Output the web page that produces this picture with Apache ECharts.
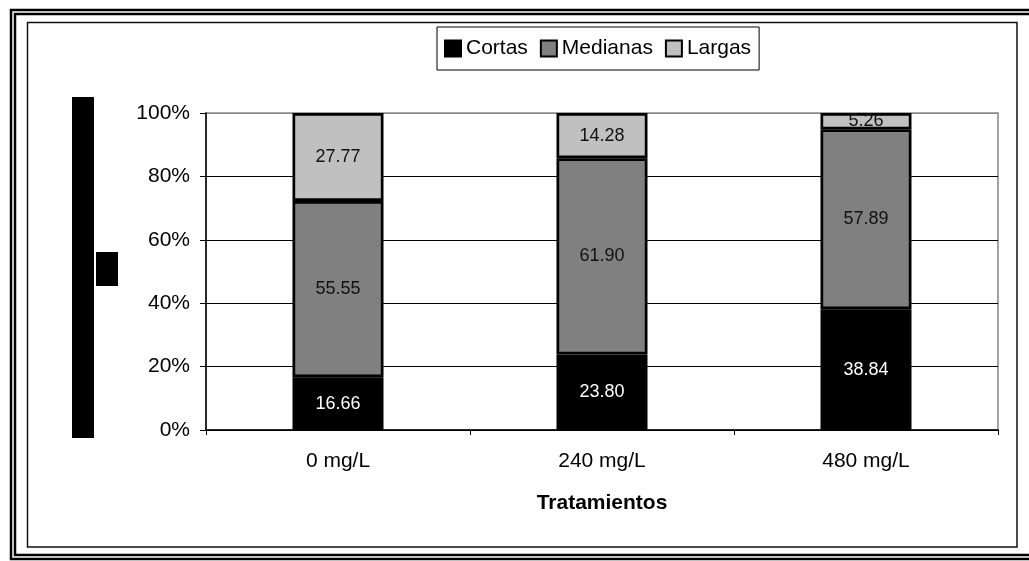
<!DOCTYPE html>
<html>
<head>
<meta charset="utf-8">
<script src="https://cdn.jsdelivr.net/npm/echarts@6/dist/echarts.min.js"></script>
<style>
  html, body { margin: 0; padding: 0; background: #fff; }
  #chart { width: 1029px; height: 561px; }
</style>
</head>
<body>
<div id="chart"></div>
<script>
// Treatments (x categories)
const categories = ['0 mg/L', '240 mg/L', '480 mg/L'];
// Root length classes, values per treatment
const cortas = [16.66, 23.80, 38.84];
const medianas = [55.55, 61.90, 57.89];
const largas = [27.77, 14.28, 5.26];
const seriesNames = ['Cortas', 'Medianas', 'Largas'];
const yTicks = [0, 20, 40, 60, 80, 100];

const FONT = '"Liberation Sans", Arial, sans-serif';

// 100% stacking: each segment is its share of the treatment total
const totals = categories.map((_, i) => cortas[i] + medianas[i] + largas[i]);
const share = arr => arr.map((v, i) => v / totals[i] * 100);

function makeSeries(name, values, color, labelColor) {
  return {
    name: name,
    type: 'bar',
    stack: 'total',
    barWidth: 91,
    data: share(values),
    itemStyle: { color: color, borderColor: '#000', borderWidth: 2.7 },
    label: {
      show: true,
      position: 'inside',
      color: labelColor,
      fontFamily: FONT,
      fontSize: 18,
      formatter: p => values[p.dataIndex].toFixed(2)
    }
  };
}

const chart = echarts.init(document.getElementById('chart'), null, { renderer: 'canvas' });
chart.setOption({
  backgroundColor: '#fff',
  animation: false,
  textStyle: { fontFamily: FONT },
  legend: {
    data: seriesNames,
    left: 437,
    top: 27,
    padding: [11, 8, 11, 7],
    itemGap: 12,
    itemWidth: 16,
    itemHeight: 16,
    borderColor: '#000',
    borderWidth: 1,
    icon: 'rect',
    textStyle: { fontFamily: FONT, fontSize: 21, color: '#000' },
    itemStyle: { borderColor: '#000', borderWidth: 2 }
  },
  grid: {
    left: 206, right: 31, top: 113, bottom: 131,
    show: true, borderColor: '#888', borderWidth: 1.5, backgroundColor: 'transparent'
  },
  xAxis: {
    type: 'category',
    data: categories,
    boundaryGap: true,
    name: 'Tratamientos',
    nameLocation: 'middle',
    nameGap: 63,
    nameTextStyle: { fontFamily: FONT, fontSize: 21, fontWeight: 'bold', color: '#000', letterSpacing: 2 },
    axisLine: { lineStyle: { color: '#000', width: 1.5 } },
    axisTick: { show: true, length: 5, alignWithLabel: false, lineStyle: { color: '#000' } },
    axisLabel: { fontFamily: FONT, fontSize: 21, color: '#000', margin: 21 }
  },
  yAxis: {
    type: 'value',
    min: yTicks[0],
    max: yTicks[yTicks.length - 1],
    interval: 20,
    axisLine: { show: true, lineStyle: { color: '#000', width: 1.5 } },
    axisTick: { show: true, length: 6, lineStyle: { color: '#000' } },
    axisLabel: { fontFamily: FONT, fontSize: 21, color: '#000', margin: 16, formatter: '{value}%' },
    splitLine: { show: true, lineStyle: { color: ['#000', '#000', '#000', '#000', '#000', '#888'], width: 1 } }
  },
  series: [
    makeSeries(seriesNames[0], cortas, '#000000', '#fff'),
    makeSeries(seriesNames[1], medianas, '#808080', '#111'),
    makeSeries(seriesNames[2], largas, '#c0c0c0', '#111')
  ],
  graphic: [
    // outer double frame
    { type: 'rect', shape: { x: 11, y: 10, width: 1040, height: 549 }, style: { fill: 'none', stroke: '#000', lineWidth: 2.5 }, silent: true },
    { type: 'rect', shape: { x: 15, y: 14, width: 1036, height: 541 }, style: { fill: 'none', stroke: '#000', lineWidth: 2.5 }, silent: true },
    // inner chart frame
    { type: 'rect', shape: { x: 27.5, y: 22.5, width: 989.5, height: 524.5 }, style: { fill: 'none', stroke: '#111', lineWidth: 1.5 }, silent: true },
    // vertical axis title blocks
    { type: 'rect', shape: { x: 72, y: 97, width: 22, height: 341 }, style: { fill: '#000' }, silent: true },
    { type: 'rect', shape: { x: 96, y: 252, width: 22, height: 34 }, style: { fill: '#000' }, silent: true }
  ]
});
</script>
</body>
</html>
